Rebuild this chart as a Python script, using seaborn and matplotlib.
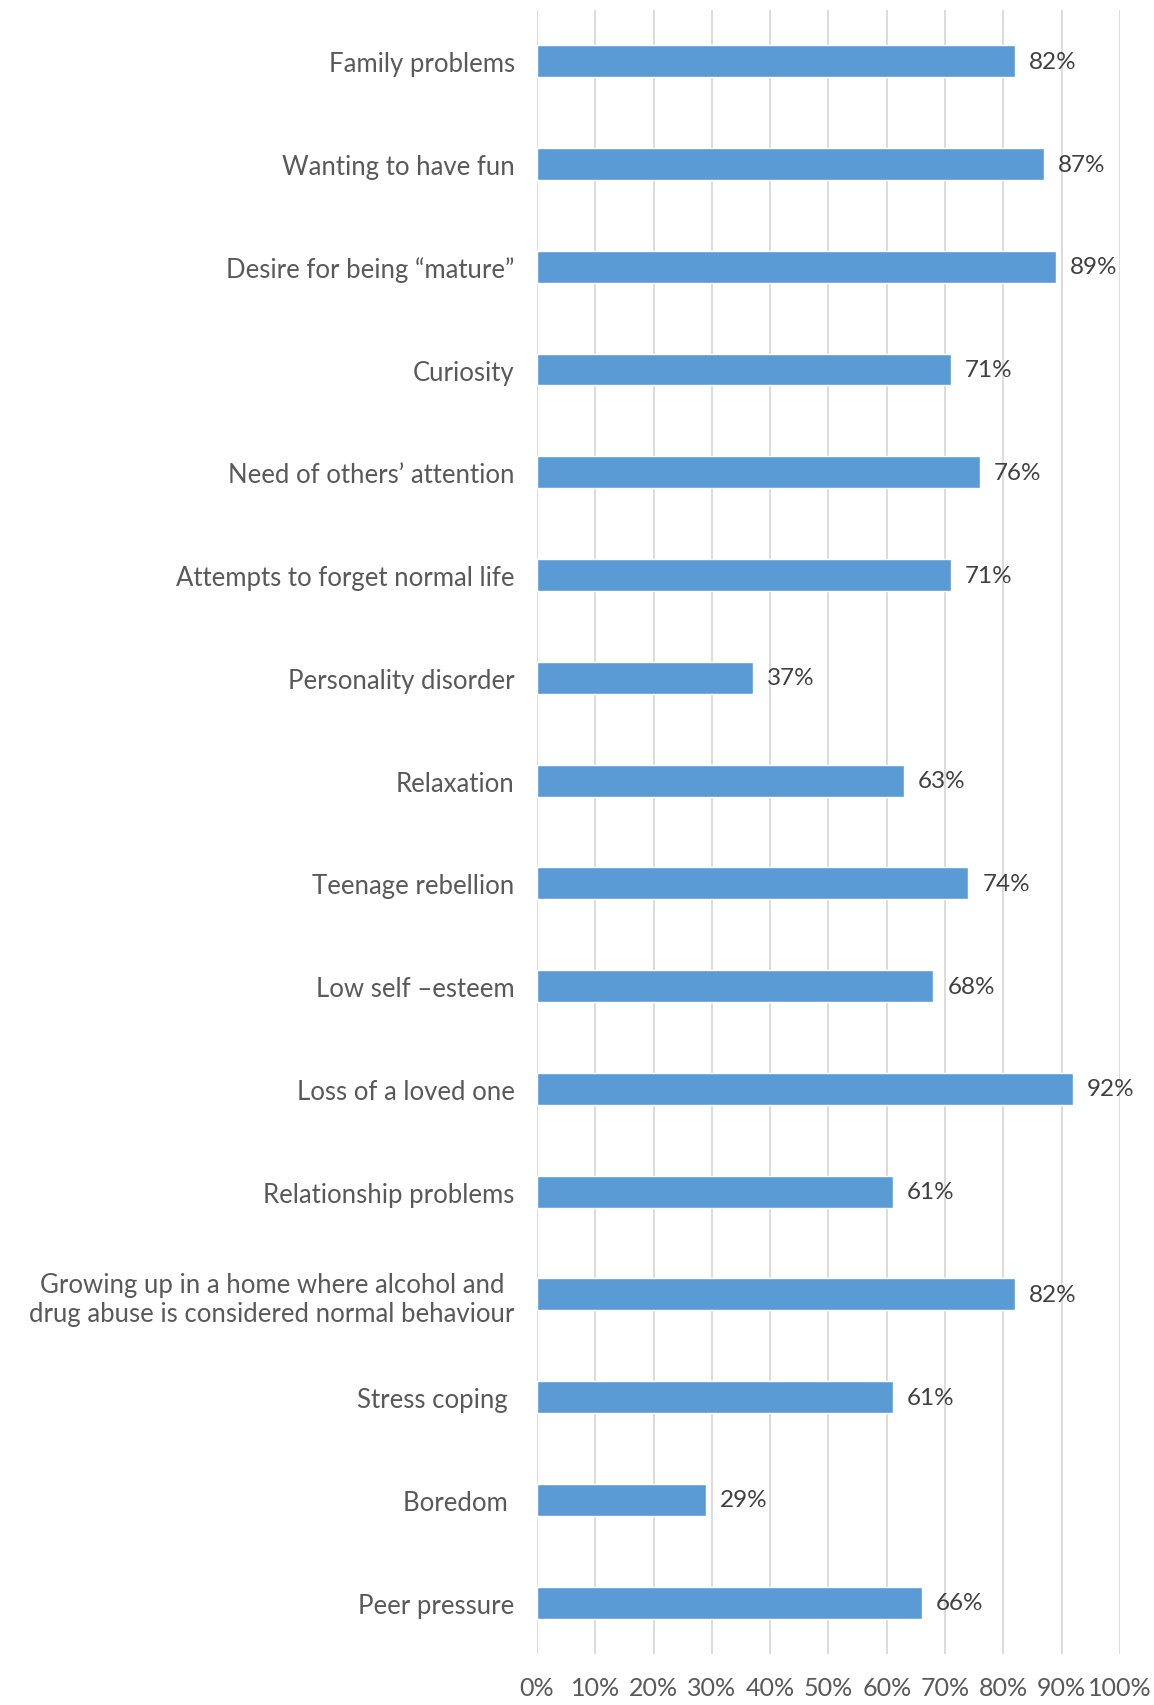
import matplotlib
matplotlib.use("Agg")
import matplotlib.pyplot as plt
import numpy as np
import pandas as pd
import seaborn as sns

motivos = [
    "Family problems",
    "Wanting to have fun",
    "Desire for being \u201cmature\u201d",
    "Curiosity",
    "Need of others\u2019 attention",
    "Attempts to forget normal life",
    "Personality disorder",
    "Relaxation",
    "Teenage rebellion",
    "Low self \u2013esteem",
    "Loss of a loved one",
    "Relationship problems",
    "Growing up in a home where alcohol and\ndrug abuse is considered normal behaviour",
    "Stress coping ",
    "Boredom ",
    "Peer pressure",
]
porcentajes = [82, 87, 89, 71, 76, 71, 37, 63, 74, 68, 92, 61, 82, 61, 29, 66]
ticks_x = list(range(0, 101, 10))

sns.set_style("white")
plt.rcParams["font.family"] = ["Lato", "DejaVu Sans"]

df = pd.DataFrame({"motivo": motivos, "pct": porcentajes})

fig = plt.figure(figsize=(11.54, 17.06), dpi=100)
ax = fig.add_axes([0.4653, 0.0299, 0.5052, 0.9637])

sns.barplot(data=df, y="motivo", x="pct", orient="h", color="#5B9BD5",
            width=0.31, saturation=1, ax=ax, zorder=3)

ax.set_xlim(0, 100)
ax.set_ylim(len(motivos) - 0.5, -0.5)
ax.set_xticks(ticks_x)
ax.set_xticklabels([f"{t}%" for t in ticks_x])
ax.set_xlabel("")
ax.set_ylabel("")
ax.grid(axis="x", color="#D9D9D9", linewidth=1.3, zorder=0)
ax.grid(axis="y", visible=False)
for s in ax.spines.values():
    s.set_visible(False)

ax.tick_params(axis="x", length=0, pad=16, labelsize=18, labelcolor="#595959")
ax.tick_params(axis="y", length=0, pad=16, labelsize=18.5, labelcolor="#595959")
for lab in ax.get_yticklabels():
    lab.set_multialignment("center")

ax.bar_label(ax.containers[0], labels=[f"{v}%" for v in porcentajes],
             padding=10, fontsize=17.5, color="#404040")

fig.savefig("out.png", dpi=100)
